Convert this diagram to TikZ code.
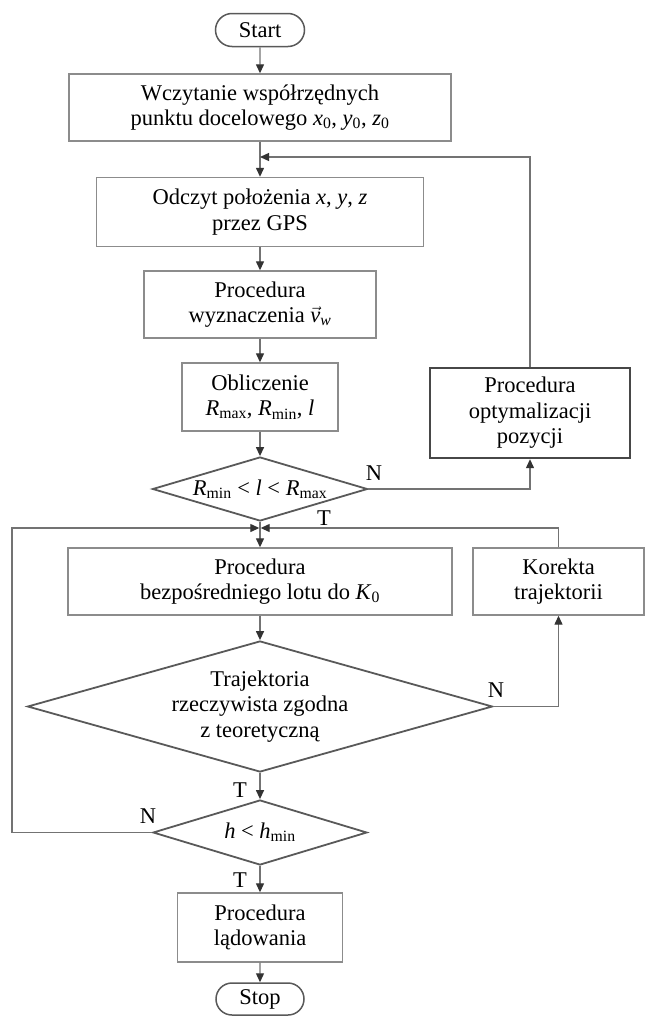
\documentclass[tikz,border=0pt]{standalone}
\usepackage{amsmath}
\usepackage{fontspec}
\setmainfont{Liberation Serif}
\usetikzlibrary{arrows.meta,shapes.geometric,shapes.misc}

\tikzset{
  box/.style={draw=black!45, line width=1.4pt, minimum height=67pt, align=center, inner sep=2pt},
  boxbold/.style={draw=black!72, line width=2.4pt, minimum height=90pt, align=center, inner sep=2pt},
  decision/.style={diamond, draw=black!65, line width=1.8pt, inner sep=0pt, align=center},
  terminal/.style={rounded rectangle, draw=black!65, line width=1.5pt, minimum width=93pt, minimum height=33pt, inner sep=2pt},
  flow/.style={draw=black!55, line width=1.3pt},
  lbl/.style={inner sep=0pt},
}

\begin{document}
\begin{tikzpicture}[x=1pt, y=-1pt, >={Triangle[length=9pt,width=8pt,color=black!80]},
  font=\fontsize{22.5}{25.5}\selectfont]
    \useasboundingbox (0,0) rectangle (645,1017);

    \node[terminal] (start) at (260,30) {Start};
    \node[box, minimum width=382pt] (read) at (260,107.5) {Wczytanie współrzędnych\\punktu docelowego \textit{x}\textsubscript{0}, \textit{y}\textsubscript{0}, \textit{z}\textsubscript{0}};
    \node[box, minimum width=327pt, minimum height=69pt] (gps) at (260,212) {Odczyt położenia \textit{x}, \textit{y}, \textit{z}\\przez GPS};
    \node[box, minimum width=232pt] (wind) at (260,304.5) {Procedura\\wyznaczenia $\vec{\textit{v}}_{\textit{w}}$};
    \node[box, minimum width=156pt, minimum height=68pt] (calc) at (260,397) {Obliczenie\\\textit{R}\textsubscript{max}, \textit{R}\textsubscript{min}, \textit{l}};
    \node[decision, aspect=3.36, minimum width=215pt, minimum height=64pt] (dec1) at (260,489) {\textit{R}\textsubscript{min} < \textit{l} < \textit{R}\textsubscript{max}};
    \node[boxbold, minimum width=200pt] (opt) at (530,413) {Procedura\\optymalizacji\\pozycji};
    \node[box, minimum width=384pt] (direct) at (260,581.5) {Procedura\\bezpośredniego lotu do \textit{K}\textsubscript{0}};
    \node[box, minimum width=171pt] (kor) at (558.5,581.5) {Korekta\\trajektorii};
    \node[decision, aspect=3.55, minimum width=465pt, minimum height=131pt] (dec2) at (260,706.5) {Trajektoria\\rzeczywista zgodna\\z teoretyczną};
    \node[decision, aspect=3.3, minimum width=214pt, minimum height=65pt] (dec3) at (260,832.5) {\textit{h} < \textit{h}\textsubscript{min}};
    \node[box, minimum width=165pt, minimum height=69pt] (land) at (260,927.5) {Procedura\\lądowania};
    \node[terminal, minimum width=92pt, minimum height=32pt] (stop) at (260,999) {Stop};

    \coordinate (j1) at (260,157);
    \coordinate (j2l) at (259.3,528);
    \coordinate (j2r) at (260.7,528);
    \coordinate (cl) at (12,528);

    \node[lbl] (n1) at (374,473) {N};
    \node[lbl] (t1) at (324,518) {T};
    \node[lbl] (n2) at (496,690) {N};
    \node[lbl] (t2) at (240,790) {T};
    \node[lbl] (n3) at (148,816) {N};
    \node[lbl] (t3) at (240,880) {T};

    \draw[flow,->] (start) -- (read);
    \draw[flow,->] (read) -- (gps);
    \draw[flow,->] (opt.north) |- (j1);
    \draw[flow,->] (gps) -- (wind);
    \draw[flow,->] (wind) -- (calc);
    \draw[flow,->] (calc) -- (dec1);
    \draw[flow,->] (dec1.east) -| (opt.south);
    \draw[flow,->] (dec1) -- (direct);
    \draw[flow,->] (kor.north) |- (j2r);
    \draw[flow,->] (dec3.west) -| (cl) -- (j2l);
    \draw[flow,->] (direct) -- (dec2);
    \draw[flow,->] (dec2.east) -| (kor.south);
    \draw[flow,->] (dec2) -- (dec3);
    \draw[flow,->] (dec3) -- (land);
    \draw[flow,->] (land) -- (stop);

\end{tikzpicture}
\end{document}
